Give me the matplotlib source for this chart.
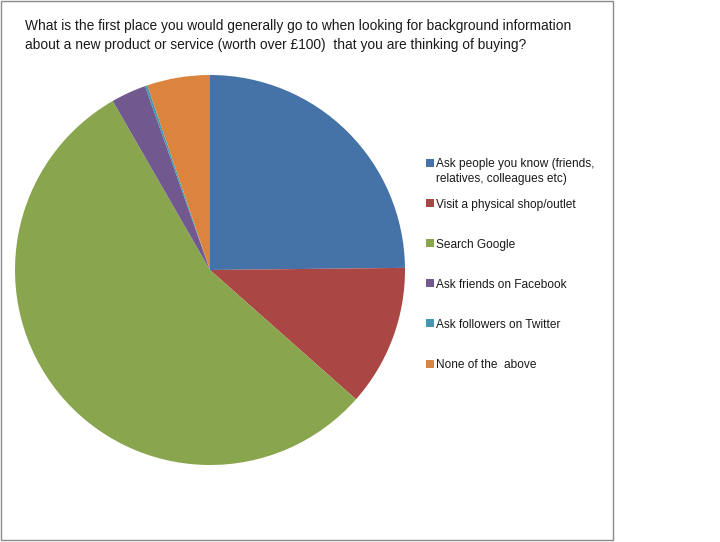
"""
Pie chart of where people first look for background information before a purchase.
"""

import matplotlib
matplotlib.use("Agg")
import matplotlib.pyplot as plt
from matplotlib.patches import Rectangle

title = ("What is the first place you would generally go to when looking for background information\n"
         "about a new product or service (worth over \u00a3100)  that you are thinking of buying?")
labels = [
    "Ask people you know (friends,\nrelatives, colleagues etc)",
    "Visit a physical shop/outlet",
    "Search Google",
    "Ask friends on Facebook",
    "Ask followers on Twitter",
    "None of the  above",
]
shares = [24.8, 11.7, 55.1, 2.9, 0.2, 5.2]
colors = ["#4572A7", "#AA4643", "#89A54E", "#71588F", "#4198AF", "#DB843D"]

W, H = 720, 542
fig = plt.figure(figsize=(W / 100, H / 100), dpi=100)
plt.rcParams["font.family"] = ["Liberation Sans", "DejaVu Sans"]


def px(x, y):
    return x / W, 1 - y / H


# chart frame
fig.patches.append(Rectangle(px(1, 540), 612 / W, 539 / H, transform=fig.transFigure,
                             fill=False, edgecolor="#8c8c8c", linewidth=1))

fig.text(*px(25, 19), title, fontsize=9.9, va="top", ha="left", linespacing=1.45, color="#1a1a1a")

# pie, centre (210, 270), radius 195 px
ax = fig.add_axes([15 / W, 77 / H, 390 / W, 390 / H])
ax.pie(shares, colors=colors, startangle=90, counterclock=False, radius=1,
       wedgeprops=dict(linewidth=0))
ax.set_xlim(-1, 1)
ax.set_ylim(-1, 1)
ax.axis("off")

# legend
for i, (lab, col) in enumerate(zip(labels, colors)):
    yc = 162.5 + i * 40.2
    fig.patches.append(Rectangle(px(426, yc + 4), 8 / W, 8 / H, transform=fig.transFigure,
                                 facecolor=col, edgecolor="none"))
    fig.text(*px(436, yc - 4), lab, fontsize=8.6, va="top", ha="left", linespacing=1.3,
             color="#1a1a1a")

fig.savefig("out.png", dpi=100)
